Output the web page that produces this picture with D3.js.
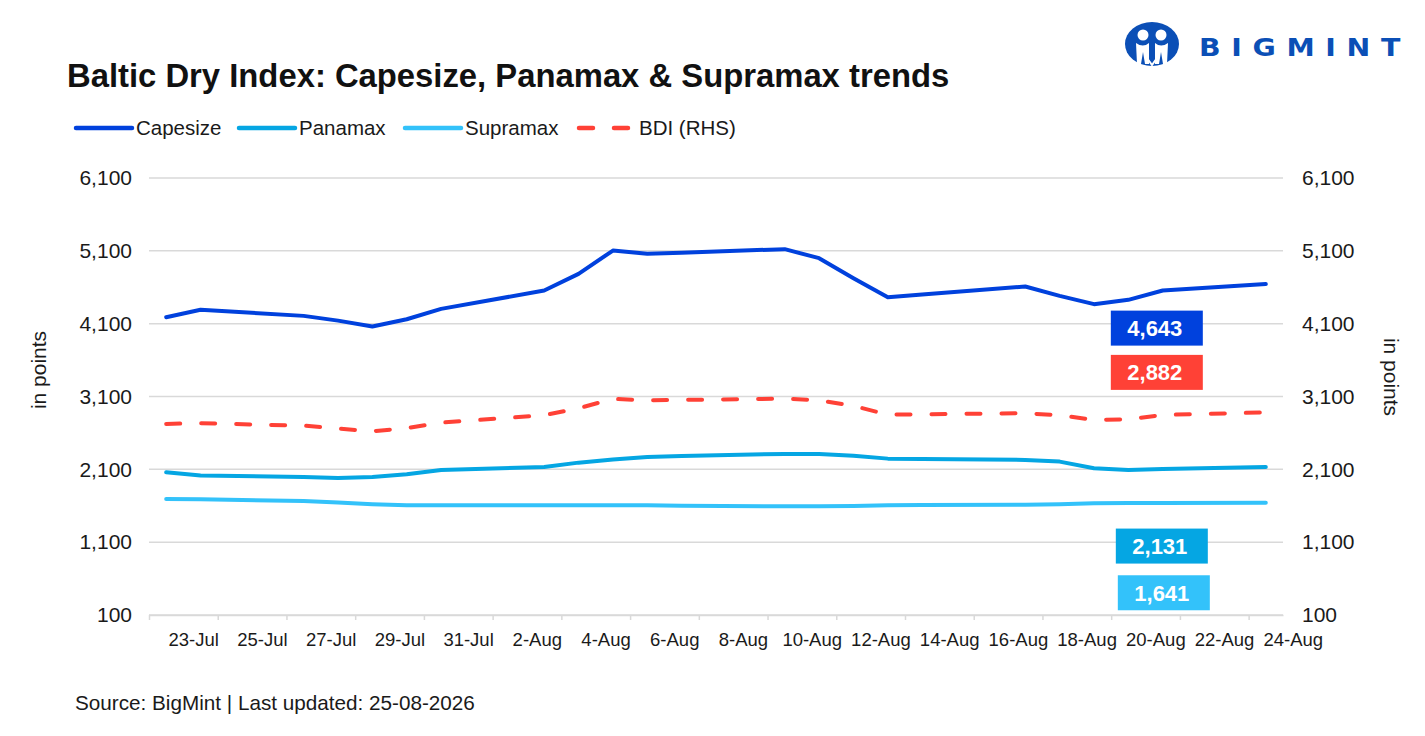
<!DOCTYPE html>
<html>
<head>
<meta charset="utf-8">
<script src="https://cdn.jsdelivr.net/npm/d3@7"></script>
<style>
    body { margin: 0; background: #fff; }
    svg { display: block; }
    text { font-family: "Liberation Sans", Arial, sans-serif; fill: #1a1a1a; }
</style>
</head>
<body>
<svg id="chart" width="1425" height="736"></svg>
<script>
// data (points are weekdays only)
var dates = ["2026-07-23", "2026-07-24", "2026-07-27", "2026-07-28", "2026-07-29", "2026-07-30", "2026-07-31",
    "2026-08-03", "2026-08-04", "2026-08-05", "2026-08-06", "2026-08-07",
    "2026-08-10", "2026-08-11", "2026-08-12", "2026-08-13", "2026-08-14",
    "2026-08-17", "2026-08-18", "2026-08-19", "2026-08-20", "2026-08-21", "2026-08-24"];
var capesize = [4189, 4290, 4207, 4142, 4060, 4161, 4303, 4555, 4784, 5104, 5059, 5075,
    5123, 4999, 4725, 4464, 4500, 4610, 4482, 4368, 4427, 4555, 4643];
var panamax = [2060, 2014, 1996, 1982, 1996, 2033, 2092, 2133, 2192, 2234, 2270, 2284,
    2312, 2312, 2288, 2247, 2243, 2229, 2206, 2115, 2092, 2106, 2131];
var supramax = [1693, 1689, 1666, 1643, 1620, 1607, 1607, 1607, 1607, 1607, 1607, 1600,
    1593, 1593, 1596, 1607, 1610, 1615, 1622, 1636, 1637, 1638, 1641];
var bdi = [2724, 2733, 2700, 2659, 2623, 2665, 2741, 2843, 2939, 3067, 3049, 3053,
    3071, 3049, 2971, 2851, 2856, 2870, 2843, 2779, 2788, 2847, 2882];

var yTicks = [100, 1100, 2100, 3100, 4100, 5100, 6100];
var xTickLabels = ["23-Jul", "25-Jul", "27-Jul", "29-Jul", "31-Jul", "2-Aug", "4-Aug", "6-Aug", "8-Aug",
    "10-Aug", "12-Aug", "14-Aug", "16-Aug", "18-Aug", "20-Aug", "22-Aug", "24-Aug"];

var series = [
    {name: "Capesize", values: capesize, color: "#0041dd", dashed: false, box: {dx: -109, dy: 44}},
    {name: "Panamax", values: panamax, color: "#05a6e3", dashed: false, box: {dx: -104, dy: 79}},
    {name: "Supramax", values: supramax, color: "#33c2fa", dashed: false, box: {dx: -102, dy: 90}},
    {name: "BDI (RHS)", values: bdi, color: "#ff4136", dashed: true, box: {dx: -109, dy: -40}}
];

var parseDate = d3.timeParse("%Y-%m-%d");
var startDate = parseDate(dates[0]);
var dayIndex = function (d) { return d3.timeDay.count(startDate, d); };
var dayCount = dayIndex(parseDate(dates[dates.length - 1])) + 1;

var svg = d3.select("#chart");
var plotLeft = 149, plotRight = 1283, plotTop = 178, plotBottom = 615;

var x = d3.scaleLinear().domain([0, dayCount]).range([plotLeft, plotRight]);
var y = d3.scaleLinear().domain([100, 6100]).range([plotBottom, plotTop]);
var yRight = d3.scaleLinear().domain([100, 6100]).range([plotBottom, plotTop]);

svg.append("rect").attr("width", 1425).attr("height", 736).attr("fill", "#fff");

// title
svg.append("text")
        .attr("x", 67).attr("y", 87)
        .style("font-size", "32.8px").style("font-weight", "bold").style("fill", "#111")
        .text("Baltic Dry Index: Capesize, Panamax & Supramax trends");

// logo
var logo = svg.append("g").attr("transform", "translate(1152,44)");
logo.append("ellipse").attr("rx", 27).attr("ry", 22).attr("fill", "#0b4fb6");
logo.append("circle").attr("cx", -9).attr("cy", -9).attr("r", 5.5).attr("fill", "#fff");
logo.append("circle").attr("cx", 9).attr("cy", -9).attr("r", 5.5).attr("fill", "#fff");
logo.append("path")
        .attr("d", "M-16,-1 Q-9,4 -3,-1 L-3,20 L-7,20 L-9,8 L-11,20 L-15,20 Z M16,-1 Q9,4 3,-1 L3,20 L7,20 L9,8 L11,20 L15,20 Z")
        .attr("fill", "#fff");
logo.append("path").attr("d", "M-5,14 L0,21 L5,14").attr("fill", "none").attr("stroke", "#fff").attr("stroke-width", 2);
svg.append("text")
        .attr("x", 1199).attr("y", 56)
        .attr("textLength", 212).attr("lengthAdjust", "spacingAndGlyphs")
        .style("font-family", "'DejaVu Sans', sans-serif")
        .style("letter-spacing", "9px")
        .style("font-size", "24px").style("font-weight", "bold").style("fill", "#0b4fb6")
        .text("BIGMINT");

// legend
var legendX = [76, 239, 405, 579];
var legend = svg.selectAll(".legendItem")
        .data(series)
        .enter().append("g")
        .attr("class", "legendItem")
        .attr("transform", function (s, i) { return "translate(" + legendX[i] + ",128)"; });
legend.append("line")
        .attr("x1", 0).attr("x2", function (s) { return s.dashed ? 50 : 56; })
        .attr("stroke", function (s) { return s.color; })
        .attr("stroke-width", 4.5)
        .attr("stroke-linecap", "round")
        .attr("stroke-dasharray", function (s) { return s.dashed ? "14,21" : null; });
legend.append("text")
        .attr("x", 60)
        .attr("y", 7)
        .style("font-size", "20.5px")
        .text(function (s) { return s.name; });

// gridlines
svg.append("g").selectAll("line")
        .data(yTicks)
        .enter().append("line")
        .attr("x1", plotLeft).attr("x2", plotRight)
        .attr("y1", function (d) { return y(d); }).attr("y2", function (d) { return y(d); })
        .attr("stroke", "#d9d9d9").attr("stroke-width", 1.5);

// y axes
var leftAxis = svg.append("g")
        .attr("transform", "translate(" + plotLeft + ",0)")
        .call(d3.axisLeft(y).tickValues(yTicks).tickSize(0).tickPadding(17).tickFormat(d3.format(",")));
var rightAxis = svg.append("g")
        .attr("transform", "translate(" + plotRight + ",0)")
        .call(d3.axisRight(yRight).tickValues(yTicks).tickSize(0).tickPadding(19).tickFormat(d3.format(",")));
[leftAxis, rightAxis].forEach(function (a) {
    a.select(".domain").remove();
    a.selectAll("text")
            .style("font-family", "'Liberation Sans', Arial, sans-serif")
            .style("font-size", "21px").style("fill", "#1a1a1a");
});

svg.append("text")
        .attr("transform", "translate(46,370) rotate(-90)")
        .attr("text-anchor", "middle")
        .style("font-size", "21px")
        .text("in points");
svg.append("text")
        .attr("transform", "translate(1384,377) rotate(90)")
        .attr("text-anchor", "middle")
        .style("font-size", "21px")
        .text("in points");

// x axis
var xAxis = svg.append("g")
        .attr("transform", "translate(0," + plotBottom + ")")
        .call(d3.axisBottom(x).tickValues(d3.range(0, dayCount, 2)).tickSize(5).tickSizeOuter(0).tickFormat(""));
xAxis.select(".domain").attr("stroke", "#d9d9d9").attr("stroke-width", 1.5);
xAxis.selectAll(".tick line").attr("stroke", "#d9d9d9").attr("stroke-width", 1.5);

var labelDate = d3.timeParse("%d-%b-%Y");
svg.append("g").selectAll("text")
        .data(xTickLabels)
        .enter().append("text")
        .attr("x", function (l) { return x(dayIndex(labelDate(l + "-2026")) + 1.3); })
        .attr("y", 646)
        .attr("text-anchor", "middle")
        .style("font-size", "18.5px")
        .text(function (l) { return l; });

// lines
var line = d3.line()
        .x(function (v, i) { return x(dayIndex(parseDate(dates[i])) + 0.5); })
        .y(function (v) { return y(v); });

svg.append("g").selectAll("path")
        .data(series.slice().reverse())
        .enter().append("path")
        .attr("d", function (s) { return line(s.values); })
        .attr("fill", "none")
        .attr("stroke", function (s) { return s.color; })
        .attr("stroke-width", 4)
        .attr("stroke-linecap", "round")
        .attr("stroke-linejoin", "round")
        .attr("stroke-dasharray", function (s) { return s.dashed ? "14,21" : null; });

// last value boxes
var lastX = x(dayIndex(parseDate(dates[dates.length - 1])) + 0.5);
var boxes = svg.selectAll(".valueBox")
        .data(series)
        .enter().append("g")
        .attr("class", "valueBox")
        .attr("transform", function (s) {
            var last = s.values[s.values.length - 1];
            return "translate(" + (lastX + s.box.dx) + "," + (y(last) + s.box.dy) + ")";
        });
boxes.append("rect")
        .attr("x", -46).attr("y", -17.5)
        .attr("width", 92).attr("height", 35)
        .attr("fill", function (s) { return s.color; });
boxes.append("text")
        .attr("x", -2).attr("y", 8)
        .attr("text-anchor", "middle")
        .style("font-size", "22px").style("font-weight", "bold").style("fill", "#fff")
        .text(function (s) { return d3.format(",")(s.values[s.values.length - 1]); });

// source
svg.append("text")
        .attr("x", 75).attr("y", 710)
        .style("font-size", "20.7px")
        .text("Source: BigMint | Last updated: 25-08-2026");
</script>
</body>
</html>
